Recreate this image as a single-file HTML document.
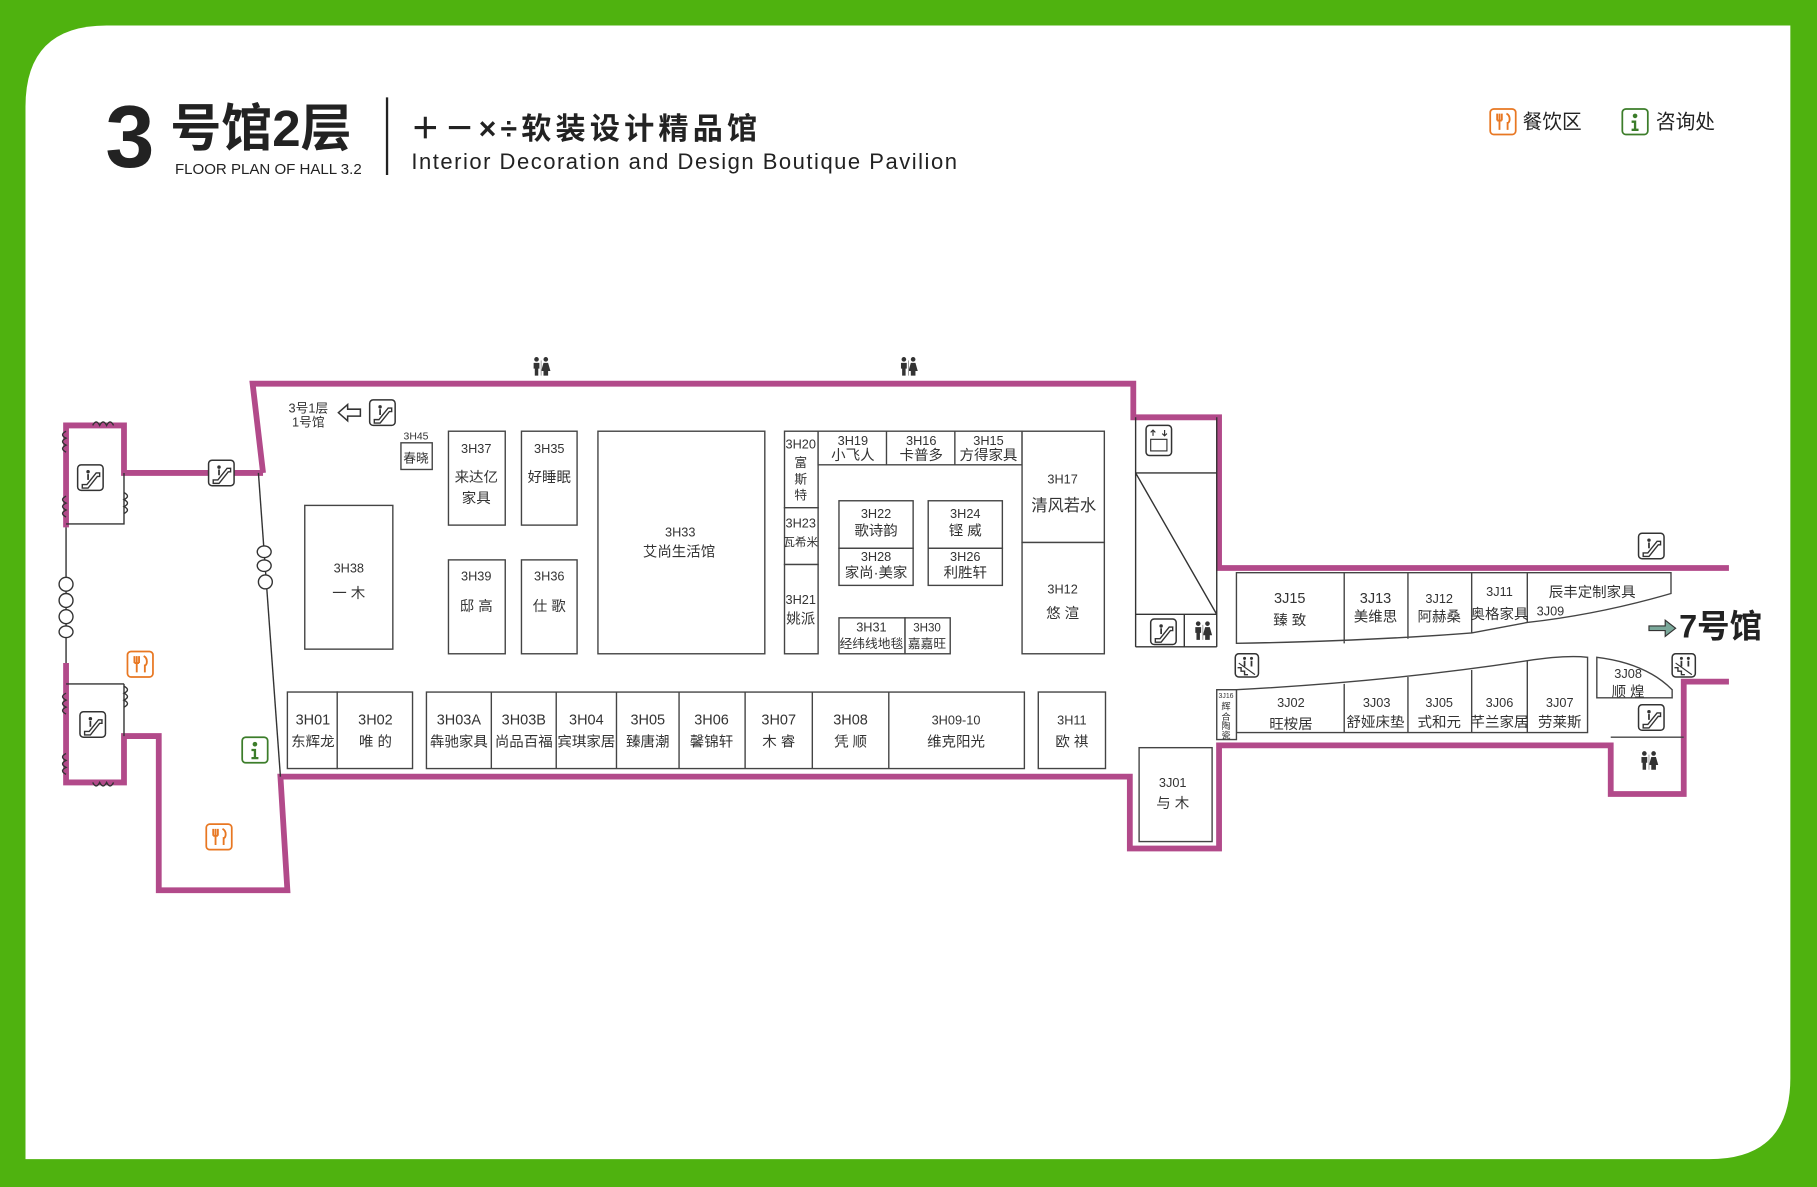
<!DOCTYPE html>
<html><head><meta charset="utf-8"><style>
html,body{margin:0;padding:0;background:#4fb20f;}
svg{display:block;}
text{font-family:"Liberation Sans","Noto Sans CJK SC",sans-serif;fill:#333;}
.s{fill:#fff;stroke:#444;stroke-width:1.2;}
.p{fill:none;stroke:#b24a8a;stroke-width:5;stroke-linejoin:miter;}
.t{font-size:11px;text-anchor:middle;}
.n{font-size:12.5px;text-anchor:middle;}
.ic{fill:#fff;stroke:#333;stroke-width:1.3;}
</style></head><body>
<svg width="1817" height="1187" viewBox="0 0 1568 1024" preserveAspectRatio="none" xmlns="http://www.w3.org/2000/svg">
<defs>
<g id="esc"><rect class="ic" x="0" y="0" width="22" height="22" rx="3"/><path d="M4 17 h4 l8-10 h3 v3 h-2 l-8 10 h-5z" fill="none" stroke="#333" stroke-width="1.2"/><circle cx="9" cy="6" r="1.5" fill="#333"/><path d="M9 8 v5" stroke="#333" stroke-width="1.5"/></g>
<g id="wc"><circle cx="4" cy="2" r="2" fill="#333"/><path d="M1.5 5 h5 v5 h-1 v6 h-3 v-6 h-1z" fill="#333"/><circle cx="12" cy="2" r="2" fill="#333"/><path d="M10 5 h4 l2 7 h-2 v4 h-4 v-4 h-2z" fill="#333"/><path d="M8 3 v13" stroke="#999" stroke-width="0.8"/></g>
<g id="fork"><rect x="0" y="0" width="22" height="22" rx="3" fill="#fff" stroke="#e87722" stroke-width="1.5"/><path d="M6 4 v6 M8 4 v14 M10 4 v6 M6 10 h4 M14 4 c4 2 3 8 1 8 v6" fill="none" stroke="#e87722" stroke-width="1.6"/></g>
<g id="info"><rect x="0" y="0" width="22" height="22" rx="3" fill="#fff" stroke="#3c7d2a" stroke-width="1.5"/><circle cx="11" cy="6" r="2" fill="#3c7d2a"/><path d="M8 10 h4 v7 h2 v2 h-6 v-2 h2 v-5 h-2z" fill="#3c7d2a"/></g>
<g id="stair"><rect class="ic" x="0" y="0" width="20" height="20" rx="3"/><path d="M2 12 h3 v3 h3 v3 h3" fill="none" stroke="#333" stroke-width="1.2"/><path d="M3 8 l14 10" stroke="#333" stroke-width="1"/><circle cx="8" cy="4" r="1.3" fill="#333"/><circle cx="14" cy="4" r="1.3" fill="#333"/><path d="M8 6v5M14 6v5" stroke="#333" stroke-width="1.5"/></g>
</defs>
<path d="M92 22 H1545 V930 Q1545 1000 1475 1000 H22 V92 Q22 22 92 22Z" fill="#fff"/>

<!-- header -->
<text x="91" y="144" style="font-size:76px;font-weight:bold;fill:#222">3</text>
<text x="147" y="126" style="font-size:44px;font-weight:bold;fill:#222">号馆2层</text>
<text x="151" y="150" style="font-size:13px;fill:#222">FLOOR PLAN OF HALL 3.2</text>
<path d="M334 84 V151" stroke="#222" stroke-width="2"/>
<text x="354" y="120" style="font-size:26px;font-weight:bold;fill:#222;letter-spacing:3.6px">＋－×÷软装设计精品馆</text>
<text x="355" y="146" style="font-size:19px;fill:#222;letter-spacing:1.3px">Interior Decoration and Design Boutique Pavilion</text>
<use href="#fork" x="1286" y="94"/><text x="1314" y="111" style="font-size:17px;fill:#222">餐饮区</text>
<use href="#info" x="1400" y="94"/><text x="1429" y="111" style="font-size:17px;fill:#222">咨询处</text>

<!-- outline purple -->
<path class="p" d="M227 408 L218 331 H978 V360 H1052 V490 H1492"/>
<path class="p" d="M1492 588 H1453 V685 H1390 V643 H1052 V732 H975 V670 H242 L248 768 H137 V635 H107 V675 H57 V572"/>
<path class="p" d="M227 408 H107 V367 H57 V455"/>
<path d="M57 455 V572" stroke="#333" stroke-width="1.2"/>
<path d="M223 408 L242 670" stroke="#333" stroke-width="1.2"/>
<path d="M107 408 V452 H57 M107 590 H57 M107 590 V635" stroke="#333" stroke-width="1.2" fill="none"/>
<path d="M980 360 V558 M1050 360 V558 M980 408 H1050 M980 408 L1050 530 M980 530 H1050 M980 558 H1050 M1022 530 V558" stroke="#333" stroke-width="1.2" fill="none"/>
<!-- door symbols -->
<g fill="#fff" stroke="#333" stroke-width="1.2">
<ellipse cx="228" cy="476" rx="6" ry="5"/><ellipse cx="228" cy="488" rx="6" ry="5"/><circle cx="229" cy="502" r="6"/>
<ellipse cx="57" cy="504" rx="6" ry="6"/><ellipse cx="57" cy="518" rx="6" ry="6"/><ellipse cx="57" cy="532" rx="6" ry="6"/><ellipse cx="57" cy="545" rx="6" ry="5"/>
</g>
<g fill="none" stroke="#333" stroke-width="1.2">
<path d="M80 367 q3-6 6 0 q3-6 6 0 q3-6 6 0"/><path d="M80 675 q3 6 6 0 q3 6 6 0 q3 6 6 0"/>
<path d="M57 372 q-6 3 0 6 q-6 3 0 6 q-6 3 0 6"/><path d="M57 428 q-6 3 0 6 q-6 3 0 6 q-6 3 0 6"/>
<path d="M107 425 q6 3 0 6 q6 3 0 6 q6 3 0 6"/><path d="M107 592 q6 3 0 6 q6 3 0 6 q6 3 0 6"/>
<path d="M57 598 q-6 3 0 6 q-6 3 0 6 q-6 3 0 6"/><path d="M57 650 q-6 3 0 6 q-6 3 0 6 q-6 3 0 6"/>
</g>

<!-- icons -->
<use href="#esc" x="67" y="401"/><use href="#esc" x="69" y="614"/><use href="#esc" x="180" y="397"/>
<use href="#esc" x="319" y="345"/><use href="#esc" x="993" y="534"/><use href="#esc" x="1414" y="460"/><use href="#esc" x="1414" y="608"/>
<use href="#wc" x="459" y="308"/><use href="#wc" x="776" y="308"/><use href="#wc" x="1030" y="536"/><use href="#wc" x="1415" y="648"/>
<use href="#fork" x="110" y="562"/><use href="#fork" x="178" y="711"/><use href="#info" x="209" y="636"/>
<use href="#stair" x="1066" y="564"/><use href="#stair" x="1443" y="564"/>
<g><rect class="ic" x="989" y="367" width="22" height="26" rx="3"/><path d="M995 371v5M1005 371v5M993 373l2-2 2 2M1003 374l2 2 2-2" stroke="#333" fill="none" stroke-width="1"/><rect x="993" y="379" width="14" height="10" fill="none" stroke="#333" stroke-width="1"/></g>
<text x="249" y="356" style="font-size:11px">3号1层</text><text x="252" y="368" style="font-size:11px">1号馆</text>
<path d="M292 356 l8-7 v4 h11 v6 h-11 v4z" fill="#fff" stroke="#333" stroke-width="1.3"/>
<path d="M1423 540 h14 v-5 l9 7 -9 7 v-5 h-14z" fill="#7aa89a" stroke="#333" stroke-width="1"/>
<text x="1449" y="550" style="font-size:28px;font-weight:bold;fill:#222">7号馆</text>

<!-- stores -->
<g class="s">
<rect x="346" y="382" width="27" height="23"/>
<rect x="263" y="436" width="76" height="124"/>
<rect x="387" y="372" width="49" height="81"/><rect x="450" y="372" width="48" height="81"/>
<rect x="387" y="483" width="49" height="81"/><rect x="450" y="483" width="48" height="81"/>
<rect x="516" y="372" width="144" height="192"/>
<rect x="677" y="372" width="29" height="66"/><rect x="677" y="438" width="29" height="49"/><rect x="677" y="487" width="29" height="77"/>
<path d="M706 372 H882 V401 H706Z M765 372 V401 M824 372 V401"/>
<rect x="882" y="372" width="71" height="96"/><rect x="882" y="468" width="71" height="96"/>
<rect x="724" y="432" width="64" height="41"/><rect x="724" y="473" width="64" height="32"/>
<rect x="801" y="432" width="64" height="41"/><rect x="801" y="473" width="64" height="32"/>
<rect x="724" y="533" width="57" height="31"/><rect x="781" y="533" width="39" height="31"/>
<rect x="248" y="597" width="43" height="66"/><rect x="291" y="597" width="65" height="66"/>
<path d="M368 597 H884 V663 H368Z M424 597V663 M480 597V663 M532 597V663 M586 597V663 M643 597V663 M701 597V663 M767 597V663"/>
<rect x="896" y="597" width="58" height="66"/>
<path d="M1067 494 H1442 V512 Q1380 530 1318 537 L1270 546 Q1180 553 1067 555Z M1160 494V555 M1215 494V551 M1270 494V546 M1318 494V537"/>
<path d="M1067 595 Q1200 588 1318 570 Q1350 565 1370 567 V632 H1067Z M1160 590V632 M1215 584V632 M1270 578V632 M1318 570V632"/>
<path d="M1378 567 Q1420 572 1443 595 V602 H1378Z"/>
<rect x="1050" y="595" width="17" height="43"/>
<rect x="983" y="645" width="63" height="81"/>
<path d="M1390 636 H1453"/>
</g>

<!-- store labels -->
<text x="359" y="379" style="font-size:9px" text-anchor="middle">3H45</text><text x="359" y="399" class="t">春晓</text>
<text x="301" y="494" class="t">3H38</text><text x="301" y="516" class="n">一 木</text>
<text x="411" y="391" class="t">3H37</text><text x="411" y="416" class="n">来达亿</text><text x="411" y="434" class="n">家具</text>
<text x="474" y="391" class="t">3H35</text><text x="474" y="416" class="n">好睡眠</text>
<text x="411" y="501" class="t">3H39</text><text x="411" y="527" class="n">邸 高</text>
<text x="474" y="501" class="t">3H36</text><text x="474" y="527" class="n">仕 歌</text>
<text x="587" y="463" class="t">3H33</text><text x="586" y="480" class="n">艾尚生活馆</text>
<text x="691" y="387" class="t">3H20</text><text x="691" y="403" class="t">富</text><text x="691" y="417" class="t">斯</text><text x="691" y="431" class="t">特</text>
<text x="691" y="455" class="t">3H23</text><text x="691" y="471" style="font-size:10px" text-anchor="middle">瓦希米</text>
<text x="691" y="521" class="t">3H21</text><text x="691" y="538" class="n">姚派</text>
<text x="736" y="384" class="t">3H19</text><text x="736" y="397" class="n">小飞人</text>
<text x="795" y="384" class="t">3H16</text><text x="795" y="397" class="n">卡普多</text>
<text x="853" y="384" class="t">3H15</text><text x="853" y="397" class="n">方得家具</text>
<text x="917" y="417" class="t">3H17</text><text x="918" y="441" style="font-size:14px" text-anchor="middle">清风若水</text>
<text x="917" y="512" class="t">3H12</text><text x="917" y="533" class="n">悠 渲</text>
<text x="756" y="447" class="t">3H22</text><text x="756" y="462" class="n">歌诗韵</text>
<text x="756" y="484" class="t">3H28</text><text x="756" y="498" class="n">家尚·美家</text>
<text x="833" y="447" class="t">3H24</text><text x="833" y="462" class="n">铿 威</text>
<text x="833" y="484" class="t">3H26</text><text x="833" y="498" class="n">利胜轩</text>
<text x="752" y="545" class="t">3H31</text><text x="752" y="559" class="t">经纬线地毯</text>
<text x="800" y="545" style="font-size:10px" text-anchor="middle">3H30</text><text x="800" y="559" class="t">嘉嘉旺</text>
<g class="n">
<text x="270" y="625" class="n">3H01</text><text x="270" y="644" class="n">东辉龙</text>
<text x="324" y="625" class="n">3H02</text><text x="324" y="644" class="n">唯 的</text>
<text x="396" y="625" class="n">3H03A</text><text x="396" y="644" class="n">犇驰家具</text>
<text x="452" y="625" class="n">3H03B</text><text x="452" y="644" class="n">尚品百福</text>
<text x="506" y="625" class="n">3H04</text><text x="506" y="644" class="n">宾琪家居</text>
<text x="559" y="625" class="n">3H05</text><text x="559" y="644" class="n">臻唐潮</text>
<text x="614" y="625" class="n">3H06</text><text x="614" y="644" class="n">馨锦轩</text>
<text x="672" y="625" class="n">3H07</text><text x="672" y="644" class="n">木 睿</text>
<text x="734" y="625" class="n">3H08</text><text x="734" y="644" class="n">凭 顺</text>
<text x="825" y="625" class="t">3H09-10</text><text x="825" y="644" class="n">维克阳光</text>
<text x="925" y="625" class="t">3H11</text><text x="925" y="644" class="n">欧 祺</text>
<text x="1113" y="520" class="n">3J15</text><text x="1113" y="539" class="n">臻 致</text>
<text x="1187" y="520" class="n">3J13</text><text x="1187" y="536" class="n">美维思</text>
<text x="1242" y="520" class="t">3J12</text><text x="1242" y="536" class="n">阿赫桑</text>
<text x="1294" y="514" class="t">3J11</text><text x="1294" y="534" class="n">奥格家具</text>
<text x="1374" y="515" class="n">辰丰定制家具</text><text x="1338" y="531" class="t">3J09</text>
<text x="1114" y="610" class="t">3J02</text><text x="1114" y="629" class="n">旺桉居</text>
<text x="1188" y="610" class="t">3J03</text><text x="1187" y="627" class="n">舒娅床垫</text>
<text x="1242" y="610" class="t">3J05</text><text x="1242" y="627" class="n">式和元</text>
<text x="1294" y="610" class="t">3J06</text><text x="1294" y="627" class="n">芊兰家居</text>
<text x="1346" y="610" class="t">3J07</text><text x="1346" y="627" class="n">劳莱斯</text>
<text x="1405" y="585" class="t">3J08</text><text x="1405" y="601" class="n">顺 煌</text>
<text x="1012" y="679" class="t">3J01</text><text x="1012" y="697" class="n">与 木</text>
</g>
<text x="1058" y="602" style="font-size:6px" text-anchor="middle">3J16</text>
<text x="1058" y="612" style="font-size:8px" text-anchor="middle">辉</text><text x="1058" y="621" style="font-size:8px" text-anchor="middle">合</text><text x="1058" y="629" style="font-size:8px" text-anchor="middle">陶</text><text x="1058" y="637" style="font-size:8px" text-anchor="middle">瓷</text>
</svg>
</body></html>
